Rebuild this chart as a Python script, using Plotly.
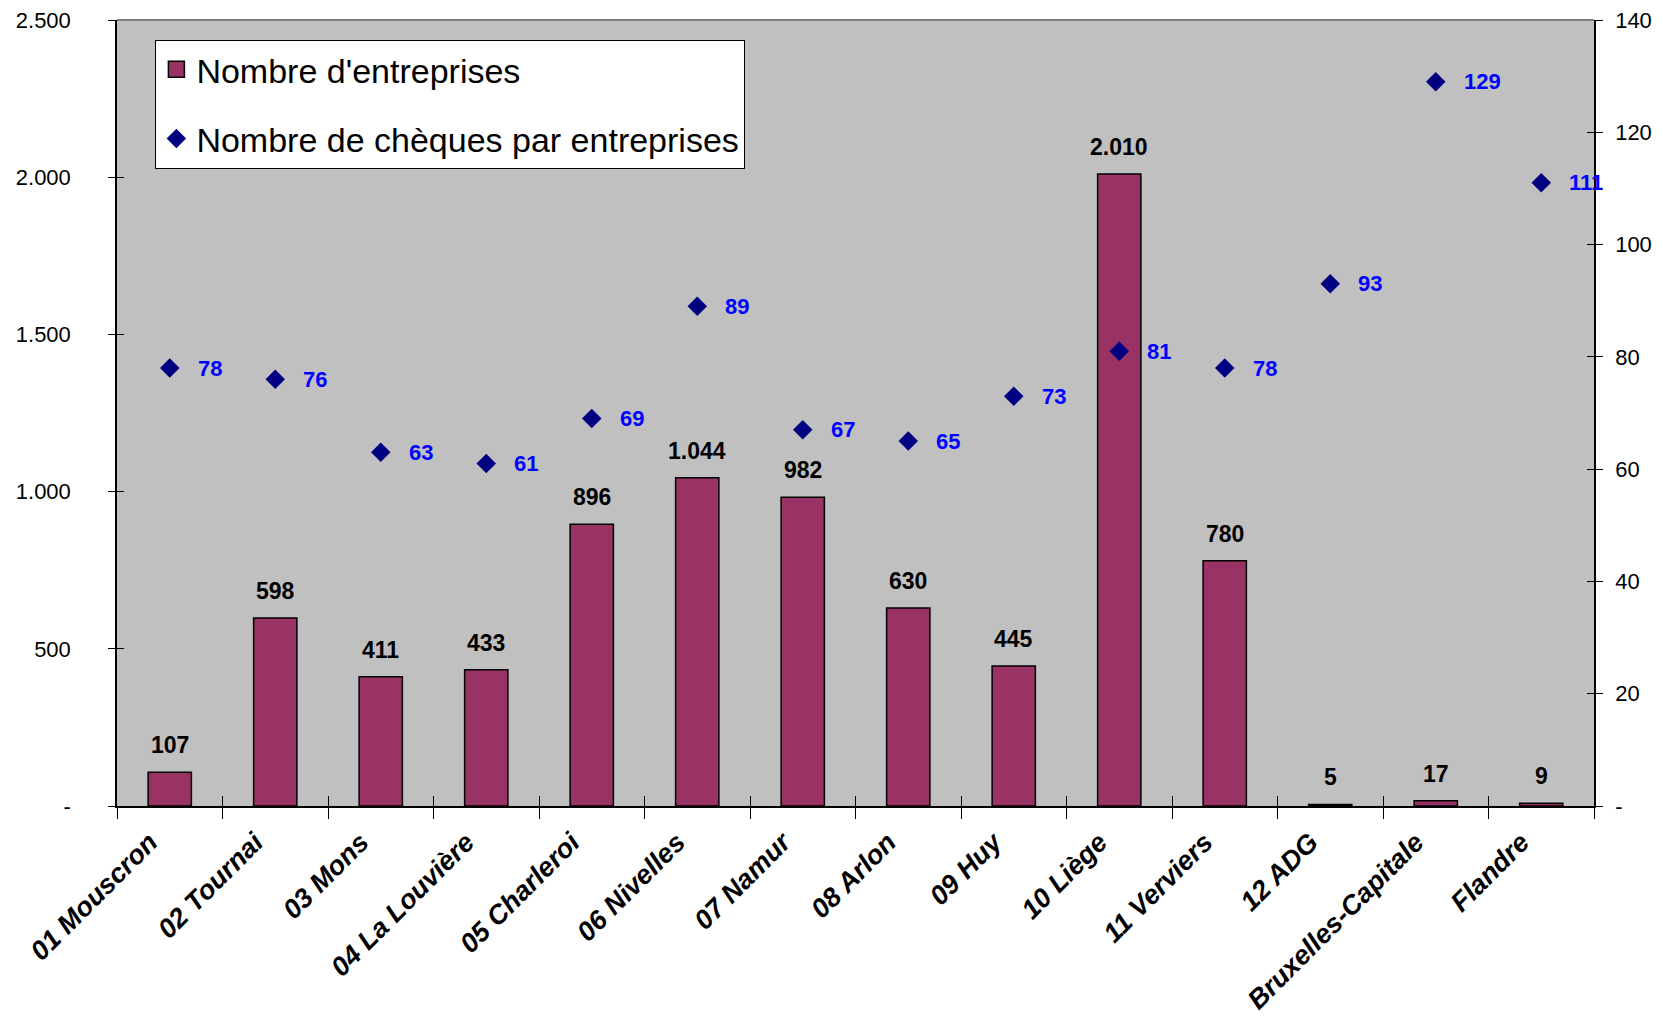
import plotly.graph_objects as go

categories = ["01 Mouscron", "02 Tournai", "03 Mons", "04 La Louvière", "05 Charleroi",
              "06 Nivelles", "07 Namur", "08 Arlon", "09 Huy", "10 Liège",
              "11 Verviers", "12 ADG", "Bruxelles-Capitale", "Flandre"]
entreprises = [107, 598, 411, 433, 896, 1044, 982, 630, 445, 2010, 780, 5, 17, 9]
cheques = [78, 76, 63, 61, 69, 89, 67, 65, 73, 81, 78, 93, 129, 111]

left_ticks = [0, 500, 1000, 1500, 2000, 2500]
left_text = ["-", "500", "1.000", "1.500", "2.000", "2.500"]
right_ticks = [0, 20, 40, 60, 80, 100, 120, 140]
right_text = ["-", "20", "40", "60", "80", "100", "120", "140"]

FONT = "Liberation Sans, Arial, sans-serif"
BAR_COLOR = "#993366"

def fmt(v):
    return f"{v:,}".replace(",", ".")

n = len(categories)
boundaries = [i - 0.5 for i in range(n + 1)]

fig = go.Figure()
fig.add_trace(go.Bar(
    x=categories, y=entreprises, name="Nombre d'entreprises",
    marker=dict(color=BAR_COLOR, line=dict(color="black", width=1.5)),
    width=0.41, showlegend=False, yaxis="y",
))
# legend entry with a larger square swatch
fig.add_trace(go.Scatter(
    x=[None], y=[None], name="Nombre d'entreprises", mode="markers",
    marker=dict(symbol="square", size=19, color=BAR_COLOR, line=dict(color="black", width=1.5)),
    legendgroup="a", yaxis="y",
))
fig.add_trace(go.Scatter(
    x=categories, y=cheques, name="Nombre de chèques par entreprises",
    mode="markers", marker=dict(symbol="diamond", size=15, color="#000080"),
    legendgroup="b", yaxis="y2",
))
# empty helper traces so the inner tick-mark axes are drawn
fig.add_trace(go.Scatter(x=[None], y=[None], xaxis="x2", yaxis="y3", showlegend=False,
                         hoverinfo="skip"))
fig.add_trace(go.Scatter(x=[None], y=[None], xaxis="x2", yaxis="y4", showlegend=False,
                         hoverinfo="skip"))

annotations = []
for c, v in zip(categories, entreprises):
    annotations.append(dict(x=c, y=v, xref="x", yref="y", text=fmt(v), showarrow=False,
                            yanchor="bottom", yshift=12,
                            font=dict(family=FONT, size=23, color="black", weight="bold")))
for c, v in zip(categories, cheques):
    annotations.append(dict(x=c, y=v, xref="x", yref="y2", text=str(v), showarrow=False,
                            xanchor="left", xshift=26,
                            font=dict(family=FONT, size=22, color="#0000FF", weight="bold")))

fig.update_layout(
    width=1647, height=1013,
    margin=dict(l=109, r=61, t=12, b=215, autoexpand=False),
    paper_bgcolor="white", plot_bgcolor="#C0C0C0",
    font=dict(family=FONT, size=22, color="black"),
    showlegend=True,
    legend=dict(x=0.026, y=0.975, xanchor="left", yanchor="top",
                bgcolor="white", bordercolor="black", borderwidth=1,
                font=dict(family=FONT, size=34, color="black"),
                traceorder="grouped", tracegroupgap=22, itemsizing="trace"),
    annotations=annotations,
    xaxis=dict(type="category", range=[-0.5, n - 0.5], showline=True, linecolor="black", linewidth=1.5,
               ticks="outside", tickson="boundaries", ticklen=11, tickcolor="black",
               tickangle=-45, showgrid=False, automargin=False, ticklabeloverflow="allow",
               ticklabelstandoff=8, ticklabelshift=-20,
               tickfont=dict(family=FONT, size=27, color="black", weight="bold", style="italic")),
    # inside half of the crossing tick marks
    xaxis2=dict(overlaying="x", anchor="y3", side="bottom", range=[-0.5, n - 0.5],
                tickvals=boundaries, ticks="inside", ticklen=10, tickcolor="black",
                showticklabels=False, showgrid=False, zeroline=False, showline=False),
    yaxis=dict(range=[0, 2500], tickvals=left_ticks, ticktext=left_text,
               showline=True, linecolor="black", linewidth=1.5, ticks="outside",
               ticklen=7, tickcolor="black", showgrid=False, zeroline=False, automargin=False,
               ticklabeloverflow="allow",
               tickfont=dict(family=FONT, size=22, color="black"), ticklabelstandoff=33),
    yaxis3=dict(overlaying="y", anchor="x2", side="left", range=[0, 2500], tickvals=left_ticks,
                ticks="inside", ticklen=7, tickcolor="black", showticklabels=False,
                showgrid=False, zeroline=False, showline=False),
    yaxis2=dict(range=[0, 140], tickvals=right_ticks, ticktext=right_text,
                overlaying="y", side="right", showline=True, linecolor="black", linewidth=1.5,
                ticks="outside", ticklen=7, tickcolor="black", showgrid=False, zeroline=False,
                automargin=False, ticklabeloverflow="allow",
                tickfont=dict(family=FONT, size=22, color="black"), ticklabelstandoff=8),
    yaxis4=dict(overlaying="y", anchor="x2", side="right", range=[0, 140], tickvals=right_ticks,
                ticks="inside", ticklen=7, tickcolor="black", showticklabels=False,
                showgrid=False, zeroline=False, showline=False),
    shapes=[dict(type="line", xref="paper", yref="paper", x0=0, x1=1, y0=1, y1=1,
                 line=dict(color="#808080", width=2))],
)

fig.write_html("out.html")
